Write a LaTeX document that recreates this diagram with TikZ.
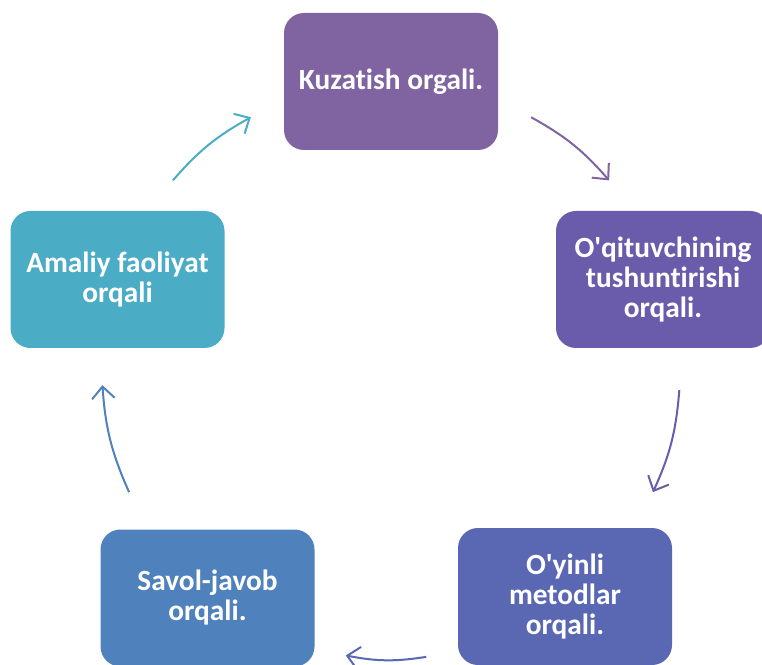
\documentclass[tikz,border=0pt]{standalone}
\usepackage{fontspec}
\setmainfont{Carlito}[Ligatures={TeX,NoCommon}]
\usetikzlibrary{arrows.meta,calc}

\definecolor{stepA}{HTML}{8064A2}
\definecolor{stepB}{HTML}{6A5BAB}
\definecolor{stepC}{HTML}{5A67B3}
\definecolor{stepD}{HTML}{4F81BD}
\definecolor{stepE}{HTML}{4BACC6}

\begin{document}
\begin{tikzpicture}[x=0.75pt,y=0.75pt]
	\tikzstyle{card}=[rectangle,rounded corners=15pt,minimum width=160.5pt,minimum height=102.75pt,text=white,align=center,font=\bfseries\fontsize{22}{22.5}\selectfont]
	\tikzstyle{turn}=[-{Straight Barb[length=9pt,width=17pt]},line width=1.5pt,bend left=10]

	\useasboundingbox (0,0) rectangle (762,664);
	\clip (0,0) rectangle (762,664);

	\coordinate (c) at (391,294);

	\node [card,fill=stepA] (kuzatish) at (391,582.5) {Kuzatish orgali.};
	\node [card,fill=stepB] (tushuntirish) at (663,384.5) {O\textquotesingle qituvchining\\tushuntirishi\\orqali.};
	\node [card,fill=stepC] (oyinli) at (565,67.5) {O\textquotesingle yinli\\metodlar\\orqali.};
	\node [card,fill=stepD] (savol) at (207.5,66) {Savol-javob\\orqali.};
	\node [card,fill=stepE] (amaliy) at (117.5,384.5) {Amaliy faoliyat\\orqali};

	% arc ends on the ring round (c)
	\foreach \name/\from/\to in {ab/61/41,bc/-4/-25,cd/-83/-99,de/-155/-177,ea/139/119}
	{
	  \coordinate (\name_s) at ($(c)+(\from:289)$);
	  \coordinate (\name_e) at ($(c)+(\to:289)$);
	}

	\foreach \source/\dest/\col in
	{ab_s/ab_e/stepA,bc_s/bc_e/stepB,cd_s/cd_e/stepC,de_s/de_e/stepD,ea_s/ea_e/stepE}
	  \draw [turn,draw=\col](\source) to (\dest);
\end{tikzpicture}
\end{document}
